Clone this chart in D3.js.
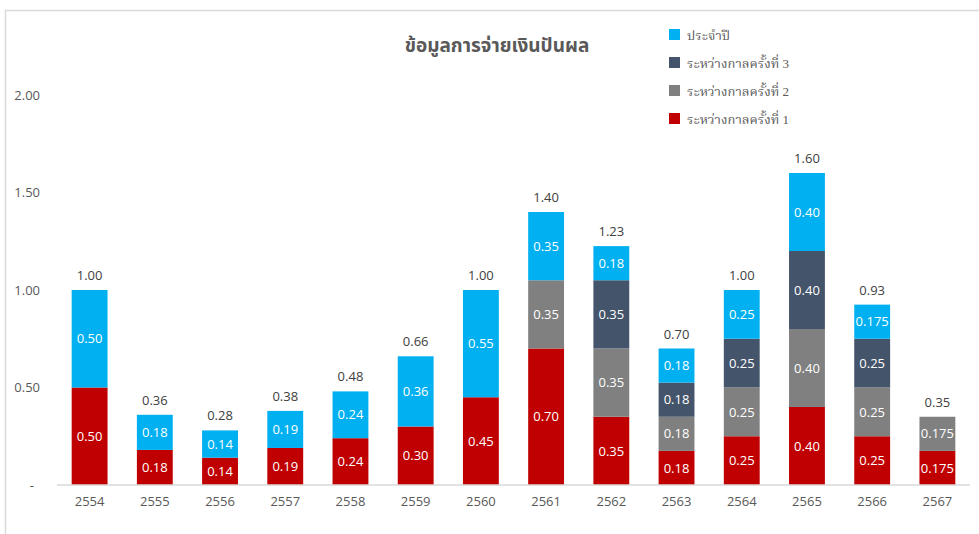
<!DOCTYPE html>
<html><head><meta charset="utf-8">
<script src="https://cdn.jsdelivr.net/npm/d3@7/dist/d3.min.js"></script>
<style>body{margin:0;background:#fff;}svg{display:block;}</style>
</head><body>
<script>
const years = ["2554","2555","2556","2557","2558","2559","2560","2561","2562","2563","2564","2565","2566","2567"];
const interim1 = [0.50,0.18,0.14,0.19,0.24,0.30,0.45,0.70,0.35,0.175,0.25,0.40,0.25,0.175];
const interim2 = [0,0,0,0,0,0,0,0.35,0.35,0.175,0.25,0.40,0.25,0.175];
const interim3 = [0,0,0,0,0,0,0,0,0.35,0.175,0.25,0.40,0.25,0];
const annual   = [0.50,0.18,0.14,0.19,0.24,0.36,0.55,0.35,0.175,0.175,0.25,0.40,0.175,0];
const showThirdDecimal = [false,false,false,false,false,false,false,false,false,false,false,false,true,true];
const yTicks = [0,0.5,1.0,1.5,2.0];
const yTickLabels = ["-","0.50","1.00","1.50","2.00"];
const seriesNames = ["ระหว่างกาลครั้งที่ 1","ระหว่างกาลครั้งที่ 2","ระหว่างกาลครั้งที่ 3","ประจำปี"];
const seriesColors = ["#C00000","#808080","#44546A","#00B0F0"];
const title = "ข้อมูลการจ่ายเงินปันผล";

const W = 979, H = 534;
const svg = d3.select("body").append("svg").attr("width", W).attr("height", H);

svg.append("rect").attr("x",5.5).attr("y",10.5).attr("width",1100).attr("height",700)
  .attr("fill","none").attr("stroke","#d9d9d9").attr("stroke-width",1.5);

const x = d3.scaleBand().domain(years).range([57, 970]).paddingInner(0.45).paddingOuter(0.225);
const y = d3.scaleLinear().domain([0, 2]).range([485, 95]);

const rows = years.map((yr, i) => ({year: yr, i, v: [interim1[i], interim2[i], interim3[i], annual[i]]}));
const stack = d3.stack().keys([0,1,2,3]).value((d, k) => d.v[k]);
const layers = stack(rows);

const r2 = v => (Math.round(v * 100 + 1e-6) / 100).toFixed(2);
const fmt = (v, i) => {
  if (showThirdDecimal[i] && Math.abs(Math.round(v * 100) - v * 100) > 1e-6) return v.toFixed(3);
  return r2(v);
};

const font = "'Open Sans', 'Noto Sans', sans-serif";
const thaiFont = "'Liberation Serif','Noto Serif Thai','Noto Sans Thai','Noto Sans', serif";

layers.forEach((layer, k) => {
  const g = svg.append("g");
  layer.forEach((seg, i) => {
    const val = seg[1] - seg[0];
    if (val <= 0) return;
    g.append("rect").attr("x", x(years[i])).attr("width", x.bandwidth())
      .attr("y", y(seg[1])).attr("height", y(seg[0]) - y(seg[1]))
      .attr("fill", seriesColors[k]);
    g.append("text").attr("x", x(years[i]) + x.bandwidth()/2)
      .attr("y", (y(seg[0]) + y(seg[1]))/2).attr("dy", "0.36em")
      .attr("text-anchor", "middle").attr("fill", "#fff")
      .style("font-family", font).style("font-size", "13px")
      .text(fmt(val, i));
  });
});

// totals
rows.forEach((d, i) => {
  const tot = d3.sum(d.v);
  svg.append("text").attr("x", x(d.year) + x.bandwidth()/2).attr("y", y(tot) - 10)
    .attr("text-anchor", "middle").attr("fill", "#404040")
    .style("font-family", font).style("font-size", "13px")
    .text(r2(tot));
});

// x axis
const xAxis = svg.append("g").attr("transform", "translate(0,485)")
  .call(d3.axisBottom(x).tickSize(0).tickPadding(12));
xAxis.select(".domain").attr("stroke", "#d9d9d9").attr("stroke-width", 1.5)
  .attr("d", "M57,0H970");
xAxis.selectAll("text").attr("fill", "#595959").style("font-family", font).style("font-size", "13px");

// y axis
const yAxis = svg.append("g").attr("transform", "translate(40,0)")
  .call(d3.axisLeft(y).tickValues(yTicks).tickSize(0).tickPadding(0)
    .tickFormat((d, i) => yTickLabels[i]));
yAxis.select(".domain").remove();
yAxis.selectAll("text").attr("fill", "#595959").style("font-family", font).style("font-size", "13px");
yAxis.selectAll(".tick").filter(d => d === 0).select("text").attr("dx", -6);

// title
svg.append("text").attr("x", 497).attr("y", 52).attr("text-anchor", "middle")
  .attr("fill", "#595959").style("font-family", "'Noto Sans Thai','Noto Sans',sans-serif")
  .style("font-size", "19px").style("font-weight", "bold")
  .text(title);

// legend (top to bottom: annual, 3, 2, 1)
const legendOrder = [3,2,1,0];
legendOrder.forEach((k, j) => {
  const ly = 35 + j * 28;
  svg.append("rect").attr("x", 669).attr("y", ly - 6).attr("width", 11).attr("height", 11).attr("fill", seriesColors[k]);
  svg.append("text").attr("x", 687).attr("y", ly).attr("dy", "0.35em")
    .attr("fill", "#595959").style("font-family", thaiFont).style("font-size", "13px")
    .text(seriesNames[k]);
});
</script>
</body></html>
